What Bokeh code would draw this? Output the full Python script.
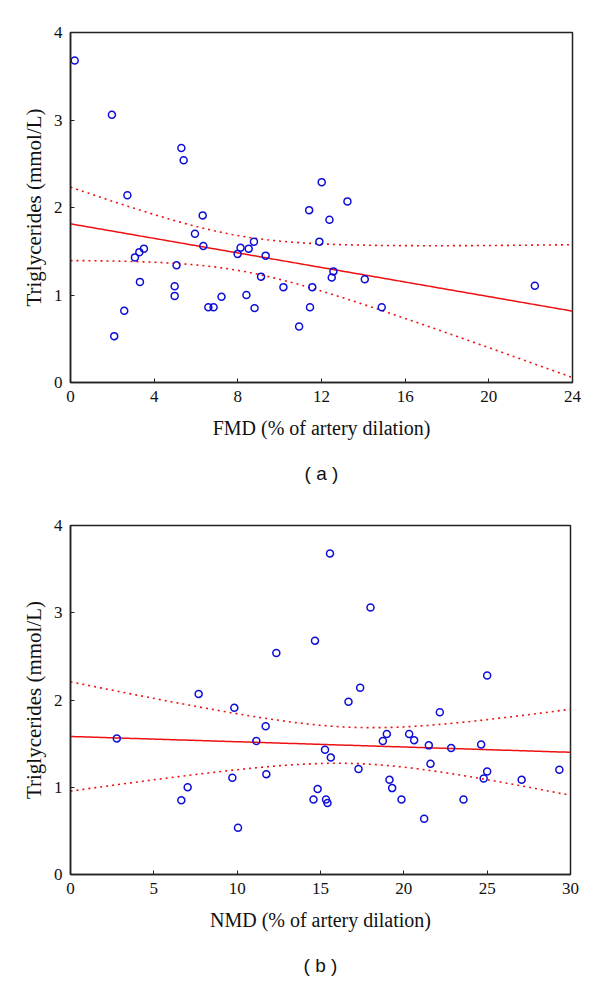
import numpy as np
from bokeh.plotting import figure
from bokeh.layouts import column
from bokeh.models import FixedTicker, Title, Range1d
from bokeh.embed import file_html
from bokeh.resources import INLINE

# ---- data ----
fmd_x = [0.2, 1.98, 5.30, 5.41, 2.72, 12.01, 13.24, 11.41, 12.38, 11.90,
         12.57, 12.49, 14.07, 11.56, 10.18, 11.45, 14.88, 10.93, 22.20, 2.09,
         2.57, 3.08, 3.29, 3.51, 3.32, 4.98, 4.98, 5.07, 6.32, 5.95,
         6.35, 6.59, 6.84, 7.22, 7.99, 8.13, 8.52, 8.77, 8.41, 8.80,
         9.11, 9.33]
fmd_y = [3.68, 3.06, 2.68, 2.54, 2.14, 2.29, 2.07, 1.97, 1.86, 1.61,
         1.27, 1.20, 1.18, 1.09, 1.09, 0.86, 0.86, 0.64, 1.105, 0.53,
         0.82, 1.43, 1.49, 1.53, 1.15, 1.10, 0.99, 1.34, 1.91, 1.70,
         1.56, 0.86, 0.86, 0.98, 1.47, 1.54, 1.53, 1.61, 1.00, 0.85,
         1.21, 1.45]

nmd_x = [15.57, 18.0, 14.67, 12.35, 25.0, 17.38, 16.68, 7.69, 9.83, 2.78,
         11.71, 11.15, 9.71, 11.75, 7.03, 6.65, 10.05, 22.16, 18.74, 18.98,
         20.32, 20.62, 21.5, 22.84, 24.64, 15.27, 15.62, 17.28, 21.6, 25.0,
         24.79, 27.07, 29.33, 19.14, 19.3, 14.83, 14.58, 15.33, 15.42, 19.86,
         23.58, 21.22]
nmd_y = [3.68, 3.06, 2.68, 2.54, 2.28, 2.14, 1.98, 2.07, 1.91, 1.56,
         1.70, 1.53, 1.11, 1.15, 1.00, 0.85, 0.535, 1.86, 1.53, 1.61,
         1.61, 1.54, 1.48, 1.45, 1.49, 1.43, 1.34, 1.21, 1.27, 1.18,
         1.10, 1.085, 1.20, 1.085, 0.99, 0.98, 0.86, 0.86, 0.82, 0.86,
         0.86, 0.64]

fmd_ticks = [0, 4, 8, 12, 16, 20, 24]
nmd_ticks = [0, 5, 10, 15, 20, 25, 30]
tg_ticks = [0, 1, 2, 3, 4]
T_CRIT = 2.021  # Student t, 95 %, df = 40

SERIF = "Liberation Serif"
SANS = "Liberation Sans"


def panel(x, y, xmax, xticks, xlabel, tag, fw, fh, left, right, top, bottom):
    p = figure(frame_width=fw, frame_height=fh,
               x_range=Range1d(0, xmax), y_range=Range1d(0, 4),
               output_backend="svg", toolbar_location=None,
               min_border_left=left, min_border_right=right,
               min_border_top=top, min_border_bottom=bottom)
    p.background_fill_color = "white"
    p.border_fill_color = "white"
    p.outline_line_color = "#222222"
    p.outline_line_width = 1.5
    p.grid.visible = False

    for ax in (p.xaxis[0], p.yaxis[0]):
        ax.axis_line_color = "#222222"
        ax.axis_line_width = 1.5
        ax.major_tick_in = 4
        ax.major_tick_out = 0
        ax.major_tick_line_color = "#222222"
        ax.minor_tick_line_color = None
        ax.major_label_text_font = SERIF
        ax.major_label_text_font_size = "17px"
        ax.major_label_text_color = "#111111"
        ax.axis_label_text_font = SERIF
        ax.axis_label_text_font_style = "normal"
        ax.axis_label_text_color = "#111111"

    p.xaxis.ticker = FixedTicker(ticks=xticks)
    p.yaxis.ticker = FixedTicker(ticks=tg_ticks)
    p.xaxis.axis_label = xlabel
    p.yaxis.axis_label = "Triglycerides (mmol/L)"
    p.xaxis.axis_label_text_font_size = "20px"
    p.yaxis.axis_label_text_font_size = "21px"
    p.xaxis.major_label_standoff = 8
    p.yaxis.major_label_standoff = 8
    p.xaxis.axis_label_standoff = 12
    p.yaxis.axis_label_standoff = 5

    # linear fit and 95 % confidence band of the mean
    xa = np.asarray(x, dtype=float)
    ya = np.asarray(y, dtype=float)
    n = len(xa)
    slope, icpt = np.polyfit(xa, ya, 1)
    res = ya - (icpt + slope * xa)
    s = np.sqrt(np.sum(res ** 2) / (n - 2))
    xm = xa.mean()
    sxx = np.sum((xa - xm) ** 2)
    xs = np.linspace(0, xmax, 200)
    yh = icpt + slope * xs
    se = s * np.sqrt(1.0 / n + (xs - xm) ** 2 / sxx)

    p.line(xs, yh, line_color="#ee1111", line_width=1.5)
    p.line(xs, yh + T_CRIT * se, line_color="#ee1111", line_width=1.6,
           line_dash="2 4")
    p.line(xs, yh - T_CRIT * se, line_color="#ee1111", line_width=1.6,
           line_dash="2 4")

    p.scatter(x, y, marker="circle", size=7, fill_color=None,
              line_color="#0d0dd8", line_width=1.5)

    p.add_layout(Title(text=tag, align="center", text_font=SANS,
                       text_font_size="19px", text_font_style="normal",
                       text_color="#111111", standoff=38), "below")
    return p


pa = panel(fmd_x, fmd_y, 24, fmd_ticks, "FMD (% of artery dilation)", "( a )",
           502, 350, 67, 23, 32, 117)
pb = panel(nmd_x, nmd_y, 30, nmd_ticks, "NMD (% of artery dilation)", "( b )",
           500, 349, 70, 22, 23, 105)

layout = column(pa, pb, spacing=0)
open("out.html", "w").write(file_html(layout, INLINE))
